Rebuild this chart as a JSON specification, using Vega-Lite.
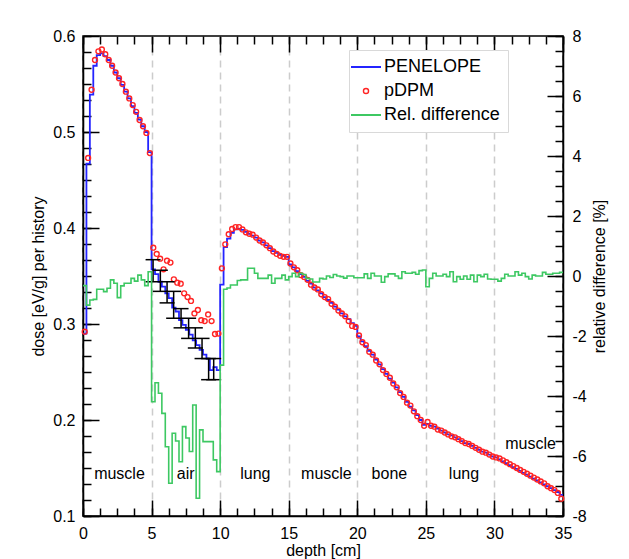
{
  "$schema": "https://vega.github.io/schema/vega-lite/v6.json",
  "width": 480,
  "height": 480,
  "autosize": {"type": "none"},
  "padding": {"left": 83, "top": 36, "right": 66, "bottom": 43},
  "background": "white",
  "config": {
    "font": "Liberation Sans",
    "view": {"stroke": "black", "strokeWidth": 1.5},
    "axis": {"domainColor": "black", "domainWidth": 1.5, "tickColor": "black", "tickWidth": 1.5, "labelColor": "black", "titleColor": "black", "labelFontSize": 16, "titleFontSize": 16, "titleFontWeight": "normal", "labelFont": "Liberation Sans", "titleFont": "Liberation Sans", "grid": false, "labelOverlap": false, "labelFlush": false}
  },
  "datasets": {
    "pen": [{"x":0,"d":0.290},{"x":0.25,"d":0.467},{"x":0.5,"d":0.539},{"x":0.75,"d":0.569},{"x":1,"d":0.580},{"x":1.25,"d":0.582},{"x":1.5,"d":0.579},{"x":1.75,"d":0.575},{"x":2,"d":0.569},{"x":2.25,"d":0.562},{"x":2.5,"d":0.556},{"x":2.75,"d":0.549},{"x":3,"d":0.542},{"x":3.25,"d":0.535},{"x":3.5,"d":0.527},{"x":3.75,"d":0.520},{"x":4,"d":0.513},{"x":4.25,"d":0.506},{"x":4.5,"d":0.500},{"x":4.75,"d":0.479},
      {"x":5,"d":0.357},{"x":5.25,"d":0.352},{"x":5.5,"d":0.344},{"x":5.75,"d":0.339},{"x":6,"d":0.332},{"x":6.25,"d":0.327},{"x":6.5,"d":0.317},{"x":6.75,"d":0.313},{"x":7,"d":0.304},{"x":7.25,"d":0.299},{"x":7.5,"d":0.294},{"x":7.75,"d":0.289},{"x":8,"d":0.283},{"x":8.25,"d":0.278},{"x":8.5,"d":0.273},{"x":8.75,"d":0.268},{"x":9,"d":0.264},{"x":9.25,"d":0.252},{"x":9.5,"d":0.255},{"x":9.75,"d":0.252},
      {"x":10,"d":0.341},{"x":10.25,"d":0.380},{"x":10.5,"d":0.389},{"x":10.75,"d":0.395},{"x":11,"d":0.3985},{"x":11.25,"d":0.399},{"x":11.5,"d":0.398},{"x":11.75,"d":0.396},{"x":12,"d":0.394},{"x":12.25,"d":0.392},{"x":12.5,"d":0.390},{"x":12.75,"d":0.387},{"x":13,"d":0.385},{"x":13.25,"d":0.382},{"x":13.5,"d":0.379},{"x":13.75,"d":0.376},{"x":14,"d":0.374},{"x":14.25,"d":0.372},{"x":14.5,"d":0.371},{"x":14.75,"d":0.370},
      {"x":15,"d":0.362},{"x":15.25,"d":0.359},{"x":15.5,"d":0.355},{"x":15.75,"d":0.352},{"x":16,"d":0.349},{"x":16.25,"d":0.345},{"x":16.5,"d":0.342},{"x":16.75,"d":0.338},{"x":17,"d":0.335},{"x":17.25,"d":0.332},{"x":17.5,"d":0.328},{"x":17.75,"d":0.325},{"x":18,"d":0.322},{"x":18.25,"d":0.318},{"x":18.5,"d":0.315},{"x":18.75,"d":0.311},{"x":19,"d":0.308},{"x":19.25,"d":0.305},{"x":19.5,"d":0.301},{"x":19.75,"d":0.298},
      {"x":20,"d":0.287},{"x":20.25,"d":0.282},{"x":20.5,"d":0.277},{"x":20.75,"d":0.272},{"x":21,"d":0.268},{"x":21.25,"d":0.263},{"x":21.5,"d":0.258},{"x":21.75,"d":0.253},{"x":22,"d":0.248},{"x":22.25,"d":0.243},{"x":22.5,"d":0.239},{"x":22.75,"d":0.234},{"x":23,"d":0.229},{"x":23.25,"d":0.224},{"x":23.5,"d":0.219},{"x":23.75,"d":0.214},{"x":24,"d":0.210},{"x":24.25,"d":0.205},{"x":24.5,"d":0.200},{"x":24.75,"d":0.195},
      {"x":25,"d":0.196},{"x":25.25,"d":0.194},{"x":25.5,"d":0.193},{"x":25.75,"d":0.191},{"x":26,"d":0.189},{"x":26.25,"d":0.187},{"x":26.5,"d":0.185},{"x":26.75,"d":0.184},{"x":27,"d":0.182},{"x":27.25,"d":0.180},{"x":27.5,"d":0.178},{"x":27.75,"d":0.176},{"x":28,"d":0.175},{"x":28.25,"d":0.173},{"x":28.5,"d":0.171},{"x":28.75,"d":0.169},{"x":29,"d":0.167},{"x":29.25,"d":0.166},{"x":29.5,"d":0.164},{"x":29.75,"d":0.162},
      {"x":30,"d":0.161},{"x":30.25,"d":0.159},{"x":30.5,"d":0.157},{"x":30.75,"d":0.155},{"x":31,"d":0.153},{"x":31.25,"d":0.151},{"x":31.5,"d":0.149},{"x":31.75,"d":0.147},{"x":32,"d":0.145},{"x":32.25,"d":0.143},{"x":32.5,"d":0.141},{"x":32.75,"d":0.139},{"x":33,"d":0.137},{"x":33.25,"d":0.135},{"x":33.5,"d":0.133},{"x":33.75,"d":0.131},{"x":34,"d":0.129},{"x":34.25,"d":0.127},{"x":34.5,"d":0.125},{"x":34.75,"d":0.122},{"x":35,"d":0.122}],
    "dpm": [{"x":0.125,"d":0.292},{"x":0.375,"d":0.473},{"x":0.625,"d":0.544},{"x":0.875,"d":0.575},{"x":1.125,"d":0.584},{"x":1.375,"d":0.586},{"x":1.625,"d":0.581},{"x":1.875,"d":0.575},{"x":2.125,"d":0.569},{"x":2.375,"d":0.562},{"x":2.625,"d":0.556},{"x":2.875,"d":0.550},{"x":3.125,"d":0.542},{"x":3.375,"d":0.535},{"x":3.625,"d":0.528},{"x":3.875,"d":0.521},{"x":4.125,"d":0.5125},{"x":4.375,"d":0.506},{"x":4.625,"d":0.499},{"x":4.875,"d":0.478},
      {"x":5.125,"d":0.3795},{"x":5.375,"d":0.373},{"x":5.625,"d":0.368},{"x":5.875,"d":0.357},{"x":6.125,"d":0.366},{"x":6.375,"d":0.364},{"x":6.625,"d":0.3465},{"x":6.875,"d":0.343},{"x":7.125,"d":0.342},{"x":7.375,"d":0.332},{"x":7.625,"d":0.328},{"x":7.875,"d":0.324},{"x":8.125,"d":0.311},{"x":8.375,"d":0.3146},{"x":8.625,"d":0.304},{"x":8.875,"d":0.303},{"x":9.125,"d":0.310},{"x":9.375,"d":0.303},{"x":9.625,"d":0.2896},{"x":9.875,"d":0.290},
      {"x":10.125,"d":0.358},{"x":10.375,"d":0.383},{"x":10.625,"d":0.3935},{"x":10.875,"d":0.399},{"x":11.125,"d":0.401},{"x":11.375,"d":0.401},{"x":11.625,"d":0.3985},{"x":11.875,"d":0.3955},{"x":12.125,"d":0.394},{"x":12.375,"d":0.393},{"x":12.625,"d":0.390},{"x":12.875,"d":0.387},{"x":13.125,"d":0.385},{"x":13.375,"d":0.382},{"x":13.625,"d":0.379},{"x":13.875,"d":0.3755},{"x":14.125,"d":0.373},{"x":14.375,"d":0.371},{"x":14.625,"d":0.370},{"x":14.875,"d":0.370},
      {"x":15.125,"d":0.363},{"x":15.375,"d":0.359},{"x":15.625,"d":0.356},{"x":15.875,"d":0.351},{"x":16.125,"d":0.349},{"x":16.375,"d":0.346},{"x":16.625,"d":0.341},{"x":16.875,"d":0.338},{"x":17.125,"d":0.336},{"x":17.375,"d":0.331},{"x":17.625,"d":0.328},{"x":17.875,"d":0.326},{"x":18.125,"d":0.321},{"x":18.375,"d":0.318},{"x":18.625,"d":0.314},{"x":18.875,"d":0.311},{"x":19.125,"d":0.308},{"x":19.375,"d":0.303},{"x":19.625,"d":0.298},{"x":19.875,"d":0.297},
      {"x":20.125,"d":0.288},{"x":20.375,"d":0.281},{"x":20.625,"d":0.278},{"x":20.875,"d":0.271},{"x":21.125,"d":0.268},{"x":21.375,"d":0.262},{"x":21.625,"d":0.258},{"x":21.875,"d":0.252},{"x":22.125,"d":0.248},{"x":22.375,"d":0.244},{"x":22.625,"d":0.238},{"x":22.875,"d":0.234},{"x":23.125,"d":0.228},{"x":23.375,"d":0.224},{"x":23.625,"d":0.218},{"x":23.875,"d":0.215},{"x":24.125,"d":0.209},{"x":24.375,"d":0.204},{"x":24.625,"d":0.200},{"x":24.875,"d":0.194},
      {"x":25.125,"d":0.198},{"x":25.375,"d":0.194},{"x":25.625,"d":0.193},{"x":25.875,"d":0.190},{"x":26.125,"d":0.189},{"x":26.375,"d":0.187},{"x":26.625,"d":0.185},{"x":26.875,"d":0.183},{"x":27.125,"d":0.182},{"x":27.375,"d":0.180},{"x":27.625,"d":0.178},{"x":27.875,"d":0.176},{"x":28.125,"d":0.175},{"x":28.375,"d":0.173},{"x":28.625,"d":0.171},{"x":28.875,"d":0.169},{"x":29.125,"d":0.167},{"x":29.375,"d":0.166},{"x":29.625,"d":0.164},{"x":29.875,"d":0.162},
      {"x":30.125,"d":0.161},{"x":30.375,"d":0.160},{"x":30.625,"d":0.158},{"x":30.875,"d":0.156},{"x":31.125,"d":0.154},{"x":31.375,"d":0.152},{"x":31.625,"d":0.150},{"x":31.875,"d":0.148},{"x":32.125,"d":0.146},{"x":32.375,"d":0.144},{"x":32.625,"d":0.142},{"x":32.875,"d":0.140},{"x":33.125,"d":0.138},{"x":33.375,"d":0.136},{"x":33.625,"d":0.134},{"x":33.875,"d":0.131},{"x":34.125,"d":0.129},{"x":34.375,"d":0.127},{"x":34.625,"d":0.124},{"x":34.875,"d":0.118}],
    "rel": [{"x":0,"r":-0.32},{"x":0.25,"r":-0.97},{"x":0.5,"r":-0.80},{"x":0.75,"r":-0.78},{"x":1,"r":-0.44},{"x":1.25,"r":-0.44},{"x":1.5,"r":-0.52},{"x":1.75,"r":-0.41},{"x":2,"r":-0.13},{"x":2.25,"r":-0.24},{"x":2.5,"r":-0.72},{"x":2.75,"r":-0.33},{"x":3,"r":-0.24},{"x":3.25,"r":-0.24},{"x":3.5,"r":-0.08},{"x":3.75,"r":-0.17},{"x":4,"r":0.03},{"x":4.25,"r":-0.13},{"x":4.5,"r":-0.32},{"x":4.75,"r":0.14},
      {"x":5,"r":-4.19},{"x":5.25,"r":-3.56},{"x":5.5,"r":-3.91},{"x":5.75,"r":-4.58},{"x":6,"r":-5.69},{"x":6.25,"r":-6.91},{"x":6.5,"r":-5.24},{"x":6.75,"r":-5.50},{"x":7,"r":-6.19},{"x":7.25,"r":-5.02},{"x":7.5,"r":-5.40},{"x":7.75,"r":-5.85},{"x":8,"r":-4.30},{"x":8.25,"r":-7.41},{"x":8.5,"r":-5.13},{"x":8.75,"r":-5.52},{"x":9,"r":-5.52},{"x":9.25,"r":-5.52},{"x":9.5,"r":-6.13},{"x":9.75,"r":-6.52},
      {"x":10,"r":-2.97},{"x":10.25,"r":-0.44},{"x":10.5,"r":-0.40},{"x":10.75,"r":-0.30},{"x":11,"r":-0.30},{"x":11.25,"r":-0.15},{"x":11.5,"r":-0.13},{"x":11.75,"r":-0.13},{"x":12,"r":0.26},{"x":12.25,"r":0.26},{"x":12.5,"r":0.09},{"x":12.75,"r":-0.08},{"x":13,"r":-0.08},{"x":13.25,"r":-0.08},{"x":13.5,"r":0.03},{"x":13.75,"r":-0.24},{"x":14,"r":-0.08},{"x":14.25,"r":-0.08},{"x":14.5,"r":0.03},{"x":14.75,"r":-0.13},
      {"x":15,"r":-0.02},{"x":15.25,"r":0.09},{"x":15.5,"r":-0.02},{"x":15.75,"r":0.09},{"x":16,"r":0.05},{"x":16.25,"r":-0.08},{"x":16.5,"r":-0.10},{"x":16.75,"r":-0.20},{"x":17,"r":-0.20},{"x":17.25,"r":-0.08},{"x":17.5,"r":-0.10},{"x":17.75,"r":0.00},{"x":18,"r":-0.05},{"x":18.25,"r":0.05},{"x":18.5,"r":0.00},{"x":18.75,"r":-0.02},{"x":19,"r":-0.07},{"x":19.25,"r":0.00},{"x":19.5,"r":0.00},{"x":19.75,"r":-0.06},
      {"x":20,"r":-0.06},{"x":20.25,"r":-0.06},{"x":20.5,"r":0.07},{"x":20.75,"r":-0.08},{"x":21,"r":0.09},{"x":21.25,"r":0.00},{"x":21.5,"r":0.00},{"x":21.75,"r":-0.21},{"x":22,"r":-0.02},{"x":22.25,"r":0.07},{"x":22.5,"r":0.07},{"x":22.75,"r":0.00},{"x":23,"r":-0.08},{"x":23.25,"r":0.14},{"x":23.5,"r":0.09},{"x":23.75,"r":0.09},{"x":24,"r":0.12},{"x":24.25,"r":0.06},{"x":24.5,"r":0.18},{"x":24.75,"r":0.20},
      {"x":25,"r":-0.36},{"x":25.25,"r":-0.08},{"x":25.5,"r":0.09},{"x":25.75,"r":0.00},{"x":26,"r":0.00},{"x":26.25,"r":0.06},{"x":26.5,"r":-0.02},{"x":26.75,"r":0.14},{"x":27,"r":-0.19},{"x":27.25,"r":-0.02},{"x":27.5,"r":-0.11},{"x":27.75,"r":0.00},{"x":28,"r":-0.11},{"x":28.25,"r":0.03},{"x":28.5,"r":-0.19},{"x":28.75,"r":0.03},{"x":29,"r":-0.02},{"x":29.25,"r":0.06},{"x":29.5,"r":-0.10},{"x":29.75,"r":-0.11},
      {"x":30,"r":-0.11},{"x":30.25,"r":-0.17},{"x":30.5,"r":-0.08},{"x":30.75,"r":0.06},{"x":31,"r":0.00},{"x":31.25,"r":0.00},{"x":31.5,"r":0.14},{"x":31.75,"r":0.03},{"x":32,"r":0.09},{"x":32.25,"r":-0.02},{"x":32.5,"r":-0.10},{"x":32.75,"r":0.03},{"x":33,"r":0.00},{"x":33.25,"r":0.00},{"x":33.5,"r":0.12},{"x":33.75,"r":0.06},{"x":34,"r":0.06},{"x":34.25,"r":0.09},{"x":34.5,"r":0.09},{"x":34.75,"r":0.12},{"x":35,"r":0.12}],
    "err": [{"x":5.11,"lo":0.344,"hi":0.367},{"x":5.64,"lo":0.334,"hi":0.356},{"x":6.13,"lo":0.322,"hi":0.344},{"x":6.61,"lo":0.306,"hi":0.334},{"x":7.15,"lo":0.296,"hi":0.316},{"x":7.7,"lo":0.285,"hi":0.306},{"x":8.19,"lo":0.275,"hi":0.296},{"x":8.68,"lo":0.264,"hi":0.285},{"x":9.16,"lo":0.242,"hi":0.264},{"x":9.53,"lo":0.242,"hi":0.264}],
    "lab": [{"x":2.66,"y":0.1437,"t":"muscle"},{"x":7.49,"y":0.1437,"t":"air"},{"x":12.57,"y":0.1437,"t":"lung"},{"x":17.75,"y":0.1437,"t":"muscle"},{"x":22.34,"y":0.1437,"t":"bone"},{"x":27.78,"y":0.1437,"t":"lung"},{"x":32.63,"y":0.175,"t":"muscle"}]
  },
  "layer": [
    {
      "layer": [
        {
          "data": {"name": "pen"},
          "mark": {"type": "line", "interpolate": "step-after", "strokeWidth": 1.8},
          "encoding": {
            "x": {"field": "x", "type": "quantitative", "scale": {"domain": [0, 35], "nice": false, "zero": false},
              "axis": {"orient": "bottom", "title": "depth [cm]", "values": [0,5,10,15,20,25,30,35],
                "labelOverlap": false, "labelFlush": false, "tickSize": -16, "labelPadding": 25, "titlePadding": 1,
                "grid": true, "gridColor": "#cccccc", "gridDash": [7, 5], "gridWidth": 1.5}},
            "y": {"field": "d", "type": "quantitative", "scale": {"domain": [0.1, 0.6], "nice": false, "zero": false},
              "axis": {"orient": "left", "title": "dose [eV/g] per history", "labelOverlap": false,
                "values": [0.1,0.2,0.3,0.4,0.5,0.6], "format": ".1f",
                "tickSize": -16, "labelPadding": 24, "titlePadding": 6}},
            "color": {"datum": "PENELOPE", "type": "nominal",
              "scale": {"domain": ["PENELOPE", "pDPM", "Rel. difference"], "range": ["#2424ff", "#ff2424", "#3dc862"]},
              "legend": {"orient": "none", "legendX": 266, "legendY": 14, "title": null, "padding": 8,
                "strokeColor": "#d9d9d9", "fillColor": "white", "labelFontSize": 18, "labelFont": "Liberation Sans", "labelColor": "black",
                "symbolSize": 900, "rowPadding": 6, "labelOffset": 9, "symbolType": "stroke",
                "encode": {"symbols": {"update": {
                  "shape": {"signal": "datum.value === 'pDPM' ? 'circle' : 'stroke'"},
                  "size": {"signal": "datum.value === 'pDPM' ? 26 : 900"},
                  "strokeWidth": {"signal": "datum.value === 'pDPM' ? 1.4 : 2"},
                  "fill": {"value": "transparent"},
                  "opacity": {"value": 1},
                  "stroke": {"signal": "datum.value === 'PENELOPE' ? '#2424ff' : (datum.value === 'pDPM' ? '#ff2424' : '#3dc862')"}}}}}}
          }
        },
        {
          "data": {"name": "dpm"},
          "mark": {"type": "point", "shape": "circle", "filled": false, "size": 24, "strokeWidth": 1.4, "opacity": 1},
          "encoding": {
            "x": {"field": "x", "type": "quantitative", "scale": {"domain": [0, 35], "nice": false, "zero": false},
              "axis": {"orient": "bottom", "title": null, "labels": false, "domain": false, "grid": false, "tickSize": -8,
                "values": [0,1.25,2.5,3.75,5,6.25,7.5,8.75,10,11.25,12.5,13.75,15,16.25,17.5,18.75,20,21.25,22.5,23.75,25,26.25,27.5,28.75,30,31.25,32.5,33.75,35]}},
            "y": {"field": "d", "type": "quantitative", "scale": {"domain": [0.1, 0.6], "nice": false, "zero": false},
              "axis": {"orient": "left", "title": null, "labels": false, "domain": false, "grid": false, "tickSize": -8,
                "values": [0.1,0.11667,0.13333,0.15,0.16667,0.18333,0.2,0.21667,0.23333,0.25,0.26667,0.28333,0.3,0.31667,0.33333,0.35,0.36667,0.38333,0.4,0.41667,0.43333,0.45,0.46667,0.48333,0.5,0.51667,0.53333,0.55,0.56667,0.58333,0.6]}},
            "color": {"datum": "pDPM", "type": "nominal", "scale": {"domain": ["PENELOPE", "pDPM", "Rel. difference"], "range": ["#2424ff", "#ff2424", "#3dc862"]}}
          }
        },
        {
          "data": {"name": "err"},
          "mark": {"type": "rule", "color": "black", "strokeWidth": 1.5},
          "encoding": {
            "x": {"field": "x", "type": "quantitative", "scale": {"domain": [0, 35], "nice": false, "zero": false}, "axis": null},
            "y": {"field": "lo", "type": "quantitative", "scale": {"domain": [0.1, 0.6], "nice": false, "zero": false}, "axis": null},
            "y2": {"field": "hi"}
          }
        },
        {
          "data": {"name": "err"},
          "mark": {"type": "tick", "orient": "horizontal", "size": 15, "thickness": 1.5, "color": "black", "opacity": 1},
          "encoding": {
            "x": {"field": "x", "type": "quantitative", "scale": {"domain": [0, 35], "nice": false, "zero": false}, "axis": null},
            "y": {"field": "lo", "type": "quantitative", "scale": {"domain": [0.1, 0.6], "nice": false, "zero": false}, "axis": null}
          }
        },
        {
          "data": {"name": "err"},
          "mark": {"type": "tick", "orient": "horizontal", "size": 15, "thickness": 1.5, "color": "black", "opacity": 1},
          "encoding": {
            "x": {"field": "x", "type": "quantitative", "scale": {"domain": [0, 35], "nice": false, "zero": false}, "axis": null},
            "y": {"field": "hi", "type": "quantitative", "scale": {"domain": [0.1, 0.6], "nice": false, "zero": false}, "axis": null}
          }
        },
        {
          "data": {"name": "lab"},
          "mark": {"type": "text", "fontSize": 16, "font": "Liberation Sans", "color": "black", "align": "center", "baseline": "middle"},
          "encoding": {
            "x": {"field": "x", "type": "quantitative", "scale": {"domain": [0, 35], "nice": false, "zero": false}, "axis": null},
            "y": {"field": "y", "type": "quantitative", "scale": {"domain": [0.1, 0.6], "nice": false, "zero": false}, "axis": null},
            "text": {"field": "t"}
          }
        }
      ],
      "resolve": {"axis": {"x": "independent", "y": "independent"}}
    },
    {
      "layer": [
        {
          "data": {"name": "rel"},
          "mark": {"type": "line", "interpolate": "step-after", "strokeWidth": 1.6},
          "encoding": {
            "x": {"field": "x", "type": "quantitative", "scale": {"domain": [0, 35], "nice": false, "zero": false},
              "axis": {"orient": "top", "title": null, "labels": false, "domain": false, "grid": false, "tickSize": -16,
                "values": [0,5,10,15,20,25,30,35]}},
            "y": {"field": "r", "type": "quantitative", "scale": {"domain": [-8, 8], "nice": false, "zero": false},
              "axis": {"orient": "right", "title": "relative difference [%]", "labelOverlap": false,
                "values": [-8,-6,-4,-2,0,2,4,6,8], "labelExpr": "toString(datum.value)",
                "tickSize": -16, "labelPadding": 25, "titleAngle": 270, "titleBaseline": "top", "titlePadding": 5}},
            "color": {"datum": "Rel. difference", "type": "nominal", "scale": {"domain": ["PENELOPE", "pDPM", "Rel. difference"], "range": ["#2424ff", "#ff2424", "#3dc862"]}}
          }
        },
        {
          "data": {"name": "rel"},
          "mark": {"type": "line", "interpolate": "step-after", "opacity": 0},
          "encoding": {
            "x": {"field": "x", "type": "quantitative", "scale": {"domain": [0, 35], "nice": false, "zero": false},
              "axis": {"orient": "top", "title": null, "labels": false, "domain": false, "grid": false, "tickSize": -8,
                "values": [0,1.25,2.5,3.75,5,6.25,7.5,8.75,10,11.25,12.5,13.75,15,16.25,17.5,18.75,20,21.25,22.5,23.75,25,26.25,27.5,28.75,30,31.25,32.5,33.75,35]}},
            "y": {"field": "r", "type": "quantitative", "scale": {"domain": [-8, 8], "nice": false, "zero": false},
              "axis": {"orient": "right", "title": null, "labels": false, "domain": false, "grid": false, "tickSize": -8,
                "values": [-8,-7.5,-7,-6.5,-6,-5.5,-5,-4.5,-4,-3.5,-3,-2.5,-2,-1.5,-1,-0.5,0,0.5,1,1.5,2,2.5,3,3.5,4,4.5,5,5.5,6,6.5,7,7.5,8]}}
          }
        }
      ],
      "resolve": {"axis": {"x": "independent", "y": "independent"}}
    }
  ],
  "resolve": {"scale": {"y": "independent"}, "axis": {"x": "independent", "y": "independent"}}
}
